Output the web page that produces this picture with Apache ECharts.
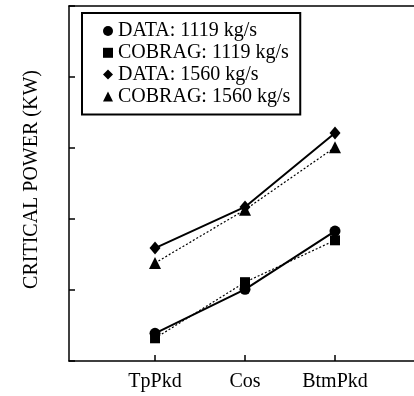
<!DOCTYPE html>
<html>
<head>
<meta charset="utf-8">
<script src="https://cdn.jsdelivr.net/npm/echarts@6/dist/echarts.min.js"></script>
<style>
  html, body { margin: 0; padding: 0; background: #fff; }
  #chart { width: 414px; height: 396px; }
</style>
</head>
<body>
<div id="chart"></div>
<script>
// categories along the x axis (placed at 1, 2, 3)
const categories = ["TpPkd", "Cos", "BtmPkd"];
const catPos = [1, 2, 3];

// critical power, relative units (no tick labels in original)
const data1119 = [0.39, 1.01, 1.83];
const cobrag1119 = [0.32, 1.11, 1.70];
const data1560 = [1.59, 2.17, 3.21];
const cobrag1560 = [1.38, 2.13, 3.01];

const seriesNames = [
  "DATA: 1119 kg/s",
  "COBRAG: 1119 kg/s",
  "DATA: 1560 kg/s",
  "COBRAG: 1560 kg/s",
];

const font = "Liberation Serif";

function pts(vals) {
  return vals.map((v, i) => [catPos[i], v]);
}

function makeSeries(name, vals, symbol, size, dashed) {
  return {
    name: name,
    type: "line",
    data: pts(vals),
    symbol: symbol,
    symbolSize: size,
    itemStyle: { color: "#000" },
    lineStyle: dashed
      ? { color: "#000", width: 1.2, type: [2, 2] }
      : { color: "#000", width: 2 },
    z: dashed ? 2 : 3,
  };
}

const myChart = echarts.init(document.getElementById("chart"));

const axisLine = { show: true, lineStyle: { color: "#000", width: 1.5 } };

const option = {
  animation: false,
  backgroundColor: "#fff",
  grid: {
    left: 69,
    top: 6,
    width: 356,
    height: 355,
    outerBoundsMode: "none",
    containLabel: false,
  },
  legend: {
    orient: "vertical",
    left: 82,
    top: 13,
    padding: [8, 10, 8, 21],
    borderColor: "#000",
    borderWidth: 2,
    itemWidth: 10,
    itemHeight: 10,
    itemGap: 1.8,
    itemTextGap: 9,
    textStyle: { fontFamily: font, fontSize: 20, color: "#000", lineHeight: 18 },
    data: [
      { name: seriesNames[0], icon: "circle" },
      { name: seriesNames[1], icon: "rect" },
      { name: seriesNames[2], icon: "diamond" },
      { name: seriesNames[3], icon: "triangle" },
    ],
  },
  xAxis: [
    {
      type: "value",
      min: 0.044,
      max: 4,
      splitLine: { show: false },
      axisLine: axisLine,
      axisTick: {
        show: true,
        inside: true,
        length: 6,
        customValues: catPos,
        lineStyle: { color: "#000", width: 1.5 },
      },
      axisLabel: {
        show: true,
        margin: 11,
        customValues: catPos,
        formatter: (v) => categories[catPos.indexOf(Math.round(v))] || "",
        fontFamily: font,
        fontSize: 20,
        color: "#000",
      },
    },
    {
      // top frame line only
      type: "value",
      position: "top",
      min: 0.044,
      max: 4,
      splitLine: { show: false },
      axisLine: axisLine,
      axisTick: { show: false },
      axisLabel: { show: false },
    },
  ],
  yAxis: {
    type: "value",
    min: 0,
    max: 5,
    interval: 1,
    name: "CRITICAL POWER (KW)",
    nameLocation: "middle",
    nameGap: 27,
    nameTextStyle: { fontFamily: font, fontSize: 20, color: "#000", padding: [0, 0, 0, 8] },
    splitLine: { show: false },
    axisLine: axisLine,
    axisTick: { show: true, inside: true, length: 6, lineStyle: { color: "#000", width: 1.5 } },
    axisLabel: { show: false },
  },
  series: [
    makeSeries(seriesNames[0], data1119, "circle", 11, false),
    makeSeries(seriesNames[1], cobrag1119, "rect", 10, true),
    makeSeries(seriesNames[2], data1560, "diamond", [11, 13], false),
    makeSeries(seriesNames[3], cobrag1560, "triangle", 12, true),
  ],
};

myChart.setOption(option);
</script>
</body>
</html>
